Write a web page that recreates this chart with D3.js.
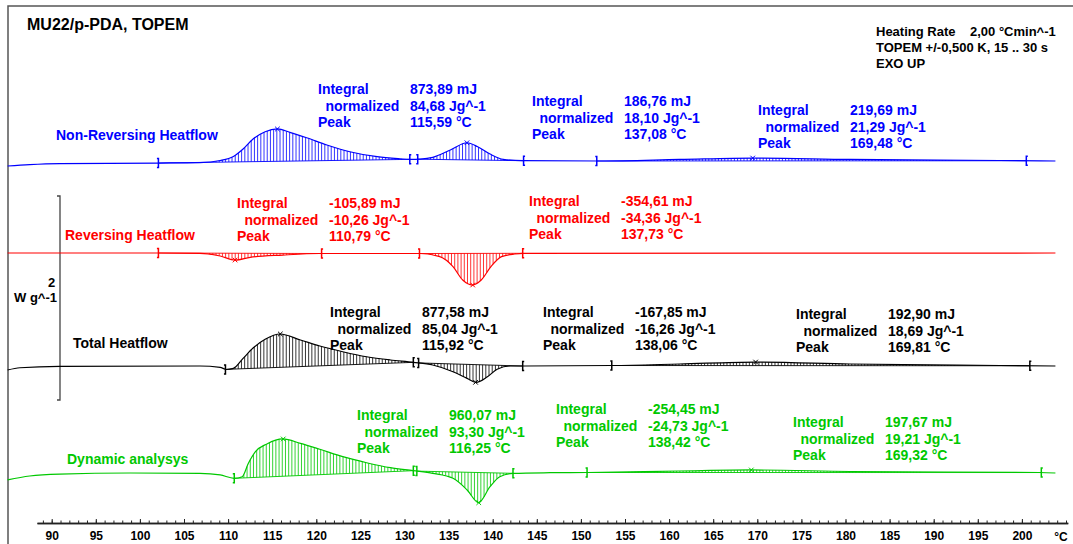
<!DOCTYPE html>
<html><head><meta charset="utf-8">
<script src="https://cdn.jsdelivr.net/npm/d3@7"></script>
<style>
body{margin:0;background:#fff;}
svg text{font-family:"Liberation Sans",Arial,sans-serif;font-weight:bold;}
</style></head><body>
<svg id="chart" width="1073" height="544"></svg>
<script>
// ---------------- DATA ----------------
const title = "MU22/p-PDA, TOPEM";
const infoLines = ["Heating Rate", "TOPEM +/-0,500 K, 15 .. 30 s", "EXO UP"];
const infoRate = "2,00 °Cmin^-1";
const axisLabelUnit = "°C";
const majorTicks = [90,95,100,105,110,115,120,125,130,135,140,145,150,155,160,165,170,175,180,185,190,195,200];
const minorTicks = d3.range(89, 206, 1);
const seriesNames = ["Non-Reversing Heatflow", "Reversing Heatflow", "Total Heatflow", "Dynamic analysys"];

// temperature (°C) / heat flow (W g^-1, relative to each curve's own offset)
const nonRevT = [85.0, 87.5, 90.9, 102.1, 106.8, 109.1, 110.6, 111.7, 112.8, 114.2, 115.6, 117.0, 118.9, 121.2, 123.8, 126.9, 129.5, 130.6, 131.8, 133.2, 135.2, 137.1, 138.3, 139.7, 141.2, 143.4, 152.2, 161.2, 169.5, 180.5, 197.5, 203.8];
const nonRevV = [-0.039, -0.025, -0.015, -0.010, -0.005, 0.015, 0.054, 0.127, 0.223, 0.297, 0.324, 0.291, 0.238, 0.167, 0.101, 0.052, 0.032, 0.026, 0.029, 0.046, 0.118, 0.189, 0.150, 0.078, 0.026, 0.013, 0.010, 0.025, 0.039, 0.025, 0.015, 0.010];

const revT = [85.0, 102.1, 106.8, 109.1, 110.8, 112.5, 116.2, 120.4, 131.8, 134.0, 135.5, 136.6, 137.7, 138.7, 139.8, 141.0, 142.5, 143.4, 203.8];
const revV = [0, 0, -0.003, -0.029, -0.069, -0.042, -0.020, -0.005, -0.005, -0.036, -0.134, -0.265, -0.314, -0.265, -0.134, -0.036, -0.010, -0.003, 0];

const totalT = [85.0, 86.4, 90.9, 106.8, 109.1, 109.8, 110.6, 111.7, 112.8, 114.2, 115.9, 118.2, 120.4, 123.0, 125.7, 128.4, 131.0, 133.2, 135.5, 137.1, 138.1, 139.4, 140.5, 142.0, 143.4, 153.5, 161.2, 169.8, 180.5, 197.5, 203.8];
const totalV = [-0.039, -0.017, -0.003, 0, -0.013, -0.034, -0.023, 0.075, 0.174, 0.262, 0.314, 0.255, 0.196, 0.140, 0.091, 0.059, 0.036, 0.010, -0.056, -0.121, -0.160, -0.105, -0.032, 0, 0, 0.005, 0.020, 0.039, 0.020, 0.005, 0];

const dynT = [85.0, 87.5, 90.9, 98.9, 106.8, 109.1, 110.7, 111.6, 112.3, 113.1, 114.4, 116.2, 118.2, 120.4, 123.0, 125.7, 128.4, 131.0, 133.2, 135.5, 137.1, 138.4, 139.7, 140.8, 142.3, 146.5, 150.7, 161.2, 169.3, 180.5, 202.0, 203.8];
const dynV = [-0.078, -0.039, -0.020, -0.010, -0.013, -0.029, -0.062, -0.046, 0.085, 0.199, 0.275, 0.324, 0.281, 0.223, 0.150, 0.091, 0.042, 0.013, -0.013, -0.062, -0.176, -0.301, -0.144, -0.046, -0.013, -0.007, -0.005, 0.010, 0.020, 0.005, -0.005, -0.010];

// integration limits (°C)
const nonRevLimits = [[102.1, 130.6], [131.5, 143.5], [151.8, 200.5]];
const revLimits    = [[102.1, 120.6], [131.7, 143.4]];
const totalLimits  = [[109.7, 131.0], [131.6, 143.4], [153.5, 200.9]];
const dynLimits    = [[110.7, 131.0], [131.4, 142.3], [150.7, 202.2]];

// peak temperatures (°C)
const nonRevPeaks = [115.59, 137.08, 169.48];
const revPeaks    = [110.79, 137.73];
const totalPeaks  = [115.92, 138.06, 169.81];
const dynPeaks    = [116.25, 138.42, 169.32];

// integrals (mJ) and normalized integrals (J g^-1)
const nonRevIntegral = [873.89, 186.76, 219.69];
const nonRevNorm     = [84.68, 18.10, 21.29];
const revIntegral    = [-105.89, -354.61];
const revNorm        = [-10.26, -34.36];
const totalIntegral  = [877.58, -167.85, 192.90];
const totalNorm      = [85.04, -16.26, 18.69];
const dynIntegral    = [960.07, -254.45, 197.67];
const dynNorm        = [93.30, -24.73, 19.21];

// ---------------- LAYOUT ----------------
const W = 1073, H = 544;
const svg = d3.select("#chart");
const x = d3.scaleLinear().domain([90, 200]).range([51.7, 1021.9]);
const axisY = 523;
const y = d3.scaleLinear().domain([0, 1]).range([axisY, axisY - 102]); // W g^-1
const fmt = v => d3.format(".2f")(v).replace(".", ",").replace("−", "-");

const series = [
  {T: nonRevT, V: nonRevV, offset: 3.539, color: "#0000ff", limits: nonRevLimits, peaks: nonRevPeaks,
   integ: nonRevIntegral, norm: nonRevNorm, name: seriesNames[0], namePos: [56, 140],
   blocks: [[318, 94], [532, 106], [758, 115]]},
  {T: revT, V: revV, offset: 2.647, color: "#ff0000", limits: revLimits, peaks: revPeaks,
   integ: revIntegral, norm: revNorm, name: seriesNames[1], namePos: [65, 240],
   blocks: [[237, 208], [529, 206]]},
  {T: totalT, V: totalV, offset: 1.539, color: "#000000", limits: totalLimits, peaks: totalPeaks,
   integ: totalIntegral, norm: totalNorm, name: seriesNames[2], namePos: [73, 348],
   blocks: [[330, 317], [543, 317], [796, 319]]},
  {T: dynT, V: dynV, offset: 0.5, color: "#00c800", limits: dynLimits, peaks: dynPeaks,
   integ: dynIntegral, norm: dynNorm, name: seriesNames[3], namePos: [67, 464],
   blocks: [[357, 420], [556, 414], [793, 427]]}
];

// frame
svg.append("path").attr("d", `M8,${H} V6 H${W}`).attr("fill", "none").attr("stroke", "#555").attr("stroke-width", 1.5);

// title + info
svg.append("text").attr("x", 27).attr("y", 30).attr("font-size", 16).text(title);
infoLines.forEach((t, i) => svg.append("text").attr("x", 876).attr("y", 36 + i * 16).attr("font-size", 13).text(t));
svg.append("text").attr("x", 970).attr("y", 36).attr("font-size", 13).text(infoRate);

// scale bracket (2 W g^-1)
const bTop = y(3.206), bBot = y(1.206);
svg.append("path").attr("d", `M57,${bTop} H60 V${bBot} H57`).attr("fill", "none").attr("stroke", "#444").attr("stroke-width", 1.3);
svg.append("text").attr("x", 51.7).attr("y", 287).attr("text-anchor", "middle").attr("font-size", 13).text("2");
svg.append("text").attr("x", 57).attr("y", 302).attr("text-anchor", "end").attr("font-size", 13).text("W g^-1");

// curves
series.forEach(s => {
  const g = svg.append("g");
  const pts = s.T.map((t, i) => [x(t), y(s.V[i] + s.offset)]);
  const line = d3.line().curve(d3.curveMonotoneX);
  const path = g.append("path").attr("d", line(pts)).attr("fill", "none")
    .attr("stroke", s.color).attr("stroke-width", 1.2);
  // sampler for y at pixel x
  const node = path.node(), L = node.getTotalLength(), smp = [];
  for (let l = 0; l <= L; l += 0.5) { const p = node.getPointAtLength(l); smp.push([p.x, p.y]); }
  const f = px => {
    let lo = 0, hi = smp.length - 1;
    while (hi - lo > 1) { const m = (lo + hi) >> 1; if (smp[m][0] < px) lo = m; else hi = m; }
    const a = smp[lo], b = smp[hi];
    const t = b[0] === a[0] ? 0 : (px - a[0]) / (b[0] - a[0]);
    return a[1] + t * (b[1] - a[1]);
  };
  // integration regions with hatching
  s.limits.forEach(([t0, t1]) => {
    const x0 = x(t0), x1 = x(t1), y0 = f(x0), y1 = f(x1);
    const base = px => y0 + (y1 - y0) * (px - x0) / (x1 - x0);
    g.append("line").attr("x1", x0).attr("y1", y0).attr("x2", x1).attr("y2", y1)
      .attr("stroke", s.color).attr("stroke-width", 0.9);
    d3.range(x0 + 3.2, x1 - 0.5, 3.2).forEach(px => {
      const yc = f(px), yb = base(px);
      if (Math.abs(yc - yb) > 0.6)
        g.append("line").attr("x1", px).attr("x2", px).attr("y1", yb).attr("y2", yc)
          .attr("stroke", s.color).attr("stroke-width", 0.8);
    });
    [[x0, y0, -1], [x1, y1, 1]].forEach(([mx, my, d]) => {
      g.append("path").attr("d", `M${mx + d * 1.5},${my - 4.5} H${mx} V${my + 4.5} H${mx + d * 1.5}`)
        .attr("fill", "none").attr("stroke", s.color).attr("stroke-width", 1.5);
    });
  });
  // peak markers
  s.peaks.forEach(pt => {
    const px = x(pt), py = f(px), r = 2.3;
    g.append("path").attr("d", `M${px - r},${py - r} L${px + r},${py + r} M${px - r},${py + r} L${px + r},${py - r}`)
      .attr("stroke", s.color).attr("stroke-width", 1);
  });
  // series name
  g.append("text").attr("x", s.namePos[0]).attr("y", s.namePos[1]).attr("font-size", 14)
    .attr("fill", s.color).text(s.name);
  // annotation blocks
  s.blocks.forEach(([bx, by], i) => {
    const rows = [["Integral", fmt(s.integ[i]) + " mJ", 0],
                  ["normalized", fmt(s.norm[i]) + " Jg^-1", 7.5],
                  ["Peak", fmt(s.peaks[i]) + " °C", 0]];
    rows.forEach(([lab, val, dx], r) => {
      g.append("text").attr("x", bx + dx).attr("y", by + r * 16.5).attr("font-size", 14).attr("fill", s.color).text(lab);
      g.append("text").attr("x", bx + 92).attr("y", by + r * 16.5).attr("font-size", 14).attr("fill", s.color).text(val);
    });
  });
});

// x axis
const xa = x.copy().domain([88.33, 205.2]).range([x(88.33), x(205.2)]);
const gAx = svg.append("g").attr("transform", `translate(0,${axisY})`);
gAx.call(d3.axisBottom(xa).tickValues(minorTicks).tickSize(-2.5).tickSizeOuter(0).tickFormat(""));
gAx.call(g => g.append("g").call(d3.axisBottom(xa).tickValues(majorTicks).tickSize(-4).tickSizeOuter(0).tickPadding(6)));
gAx.selectAll("path.domain").attr("stroke", "#222").attr("stroke-width", 1.3);
gAx.selectAll(".tick line").attr("stroke", "#222");
gAx.selectAll(".tick text").attr("font-size", 12).attr("font-family", "Liberation Sans, Arial, sans-serif")
  .attr("font-weight", "bold").attr("fill", "#000").attr("dy", "0.71em").attr("y", 8);
svg.append("text").attr("x", 1061).attr("y", 541).attr("text-anchor", "middle").attr("font-size", 12).text(axisLabelUnit);
</script>
</body></html>
